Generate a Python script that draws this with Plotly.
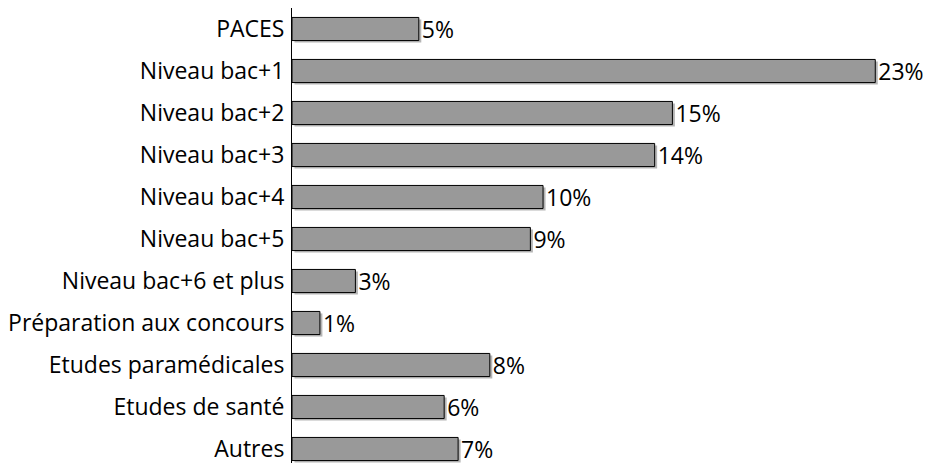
import plotly.graph_objects as go

categories = ["PACES", "Niveau bac+1", "Niveau bac+2", "Niveau bac+3", "Niveau bac+4",
              "Niveau bac+5", "Niveau bac+6 et plus", "Préparation aux concours",
              "Etudes paramédicales", "Etudes de santé", "Autres"]
values = [5.0, 23.0, 15.0, 14.3, 9.9, 9.4, 2.5, 1.1, 7.8, 6.0, 6.55]
labels = ["5%", "23%", "15%", "14%", "10%", "9%", "3%", "1%", "8%", "6%", "7%"]

W, H = 929, 463
left_px, right_px, top_px = 292, 926, 8
row_px = 42.0
plot_h = H - top_px
n_rows = plot_h / row_px
x_max = 25.0
px_per_unit = (right_px - left_px) / x_max

font = dict(family="'Open Sans', 'Noto Sans', sans-serif", size=23, color="black")

fig = go.Figure()

# shadow (base axes, shifted ranges)
fig.add_trace(go.Bar(
    y=categories, x=values, orientation="h",
    marker=dict(color="#b5b5b5", line=dict(width=0)),
    hoverinfo="skip", showlegend=False,
    xaxis="x", yaxis="y",
))
# main bars (overlay axes)
fig.add_trace(go.Bar(
    y=categories, x=values, orientation="h",
    marker=dict(color="#999999", line=dict(color="black", width=1)),
    text=labels, textposition="outside", textfont=font, constraintext="none",
    cliponaxis=False, showlegend=False,
    xaxis="x2", yaxis="y2",
))

dx = 2.5 / px_per_unit
dy = 2.0 / row_px
y_bottom = -0.5 + n_rows
xdom = [left_px / W, right_px / W]
ydom = [0, 1 - top_px / H]

fig.update_layout(
    width=W, height=H,
    margin=dict(l=0, r=0, t=0, b=0),
    paper_bgcolor="white", plot_bgcolor="white",
    bargap=0.45,
    font=font,
    xaxis=dict(domain=xdom, range=[-dx, x_max - dx], visible=False, fixedrange=True),
    yaxis=dict(domain=ydom, type="category", range=[y_bottom - dy, -0.5 - dy],
               visible=False, fixedrange=True),
    xaxis2=dict(domain=xdom, range=[0, x_max], visible=False, overlaying="x",
                anchor="y2", fixedrange=True),
    yaxis2=dict(domain=ydom, type="category", range=[y_bottom, -0.5],
                overlaying="y", anchor="x2", showline=True, linecolor="black",
                linewidth=1, ticks="", showgrid=False, zeroline=False,
                tickfont=font, ticklabelstandoff=2, fixedrange=True),
)

fig.write_html(
    "out.html",
    config={"displayModeBar": False},
    post_script="document.body.style.margin='0';document.body.style.overflow='hidden';",
)
